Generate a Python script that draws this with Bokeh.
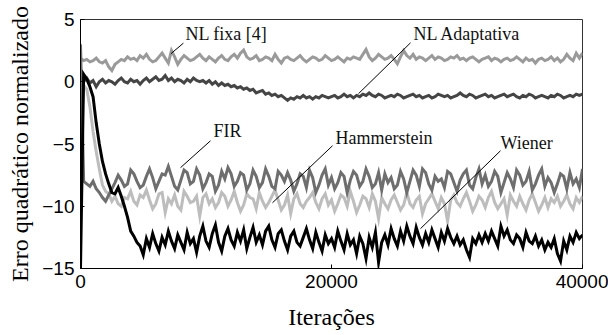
from bokeh.plotting import figure
from bokeh.embed import file_html
from bokeh.resources import INLINE
from bokeh.models import FixedTicker
from bokeh.core.properties import value

iters = [i * 250 for i in range(161)]

nl_fixa = [
    1.9, 1.7, 1.8, 1.6, 1.7, 1.9, 1.6, 1.5, 1.7, 1.2,
    0.9, 1.4, 1.6, 1.8, 1.7, 2.0, 1.8, 1.9, 1.7, 2.1,
    1.9, 2.2, 1.8, 1.6, 1.7, 2.0, 2.3, 1.9, 1.5, 2.5,
    2.0, 1.4, 1.8, 2.1, 1.9, 1.7, 1.8, 2.0, 2.2, 1.9,
    1.7, 2.0, 1.8, 1.6, 1.9, 2.1, 1.8, 1.7, 2.0, 2.2,
    1.9, 2.3, 2.55, 2.0, 1.8, 1.9, 2.1, 1.7, 1.8, 2.0,
    1.9, 1.7, 2.2, 1.8, 1.5, 1.9, 2.0, 1.8, 1.7, 1.9,
    2.1, 1.8, 1.6, 1.8, 2.0, 1.9, 1.7, 1.8, 2.1, 1.9,
    1.7, 1.8, 2.0, 1.8, 1.6, 1.9, 1.8, 2.0, 1.9, 1.8,
    2.2, 2.6, 2.0, 1.7, 1.9, 2.2, 2.0, 1.8, 1.9, 2.1,
    1.8, 1.45, 2.0, 2.5, 2.1, 1.9, 2.2, 1.8, 2.0, 1.9,
    1.7, 1.9, 2.1, 1.8, 2.0, 1.9, 1.7, 1.8, 2.0, 1.9,
    2.1, 1.8, 1.9, 1.7, 1.9, 2.0, 1.8, 1.6, 1.8, 1.9,
    2.0, 1.7, 1.9, 1.8, 1.6, 1.8, 1.9, 1.7, 1.8, 2.0,
    1.8, 1.6, 1.9, 1.7, 1.8, 1.5, 1.8, 1.9, 1.7, 1.8,
    2.0, 1.7, 1.9, 1.6, 1.8, 2.2, 1.9, 1.7, 2.3, 1.9, 2.3,
]

nl_adapt = [
    0.2, 0.0, 0.3, -0.1, 0.1, -0.4, 0.0, 0.2, -0.1, 0.1,
    0.0, -0.2, 0.1, 0.3, 0.0, -0.1, 0.2, 0.0, 0.1, -0.2,
    0.1, 0.3, 0.0, 0.2, 0.4, 0.1, 0.2, 0.5, 0.1, 0.3,
    0.0, 0.2, 0.1, -0.1, 0.2, 0.0, 0.3, 0.1, 0.0, 0.1,
    -0.1, 0.1, -0.2, 0.0, -0.3, -0.1, -0.3, -0.2, -0.4, -0.3,
    -0.5, -0.4, -0.6, -0.5, -0.7, -0.6, -0.9, -0.8, -0.7, -1.0,
    -0.9, -1.1, -1.0, -1.2, -1.1, -1.3, -1.5, -1.3, -1.4, -1.2,
    -1.3, -1.1, -1.3, -1.2, -1.4, -1.2, -1.3, -1.1, -1.2, -1.3,
    -1.2, -1.1, -1.3, -1.2, -1.0, -1.2, -1.1, -1.3, -1.1, -1.2,
    -1.0, -1.1, -0.9, -1.1, -1.2, -1.0, -1.1, -1.3, -1.2, -1.1,
    -1.2, -1.0, -1.1, -1.3, -1.2, -1.1, -1.0, -1.2, -1.1, -1.3,
    -1.2, -1.1, -1.3, -1.2, -1.0, -1.1, -1.2, -1.1, -1.3, -1.2,
    -1.1, -0.9, -1.1, -1.2, -1.0, -1.1, -1.3, -1.2, -1.1, -1.0,
    -1.2, -1.1, -1.3, -1.2, -1.1, -1.0, -1.2, -1.1, -1.0, -1.2,
    -1.3, -1.1, -1.2, -1.0, -1.1, -1.3, -1.2, -1.1, -1.2, -1.3,
    -1.1, -1.2, -1.0, -1.1, -1.3, -1.2, -1.1, -1.2, -1.0, -1.1, -1.0,
]

fir = [
    3.0, -8.0, -8.2, -8.4, -8.0, -8.6, -8.9, -9.3, -9.6, -9.1,
    -8.6, -8.1, -7.5, -7.9, -8.4, -8.2, -7.1, -7.4, -8.0, -8.5,
    -8.3, -7.6, -7.0, -7.7, -8.6, -8.0, -7.4, -7.5, -6.8, -7.6,
    -8.4, -8.7, -7.9, -7.1, -7.3, -8.2, -8.0, -7.0, -7.5, -8.6,
    -8.1, -7.4, -7.6, -8.8, -8.3, -7.2, -7.8, -6.9, -7.4, -8.4,
    -8.0, -7.3, -7.5, -8.7, -8.2, -7.1, -7.6, -8.5, -8.1, -7.0,
    -7.6, -8.4, -8.6, -7.2, -7.5, -8.0, -7.3, -7.9, -8.8, -8.2,
    -7.4, -7.6, -8.5, -7.1, -7.7, -8.9, -8.3, -7.5, -7.0, -8.3,
    -7.7, -8.6, -8.1, -7.3, -7.6, -8.9, -7.9, -7.2, -7.5, -8.4,
    -8.0, -7.0, -7.6, -8.5, -8.2, -7.3, -8.7, -7.4, -8.1, -7.7,
    -8.6, -8.3, -7.2, -7.8, -8.9, -8.0, -7.1, -7.5, -8.4, -7.0,
    -7.3, -8.2, -8.7, -7.6, -8.0, -7.8, -8.5, -7.2, -7.4, -8.1,
    -8.8, -7.9, -7.4, -7.1, -8.3, -8.6, -7.7, -7.0, -8.2, -7.5,
    -8.4, -8.0, -7.2, -7.6, -8.9, -8.1, -7.3, -7.8, -8.5, -7.1,
    -7.5, -8.3, -8.0, -7.2, -8.7, -8.2, -7.5, -7.0, -8.4, -7.7,
    -8.1, -8.9, -8.2, -7.4, -7.6, -8.6, -7.3, -8.2, -7.8, -8.5, -7.0,
]

hammerstein = [
    -5.0, -0.3, -0.6, -2.0, -4.0, -5.6, -7.0, -8.3, -8.8, -9.0,
    -9.6, -9.2, -9.8, -10.0, -9.3, -9.4, -8.8, -9.6, -9.9, -9.1,
    -9.3, -8.7, -9.5, -10.2, -9.8, -9.0, -8.9, -10.5, -9.4, -9.8,
    -9.1, -10.0, -10.3, -8.8, -9.2, -9.7, -9.6, -9.2, -10.8, -9.3,
    -9.0, -9.8, -9.4, -10.1, -9.7, -8.9, -9.2, -10.0, -9.5, -8.8,
    -9.7, -10.4, -9.9, -9.0, -9.3, -9.4, -10.2, -8.9, -9.6, -10.1,
    -9.7, -9.2, -8.7, -9.5, -10.3, -9.9, -9.1, -10.6, -9.4, -9.0,
    -9.8, -10.1, -9.6, -9.3, -8.9, -9.7, -10.2, -9.4, -9.0, -9.9,
    -9.5, -10.4, -9.8, -9.1, -9.3, -10.0, -8.8, -9.6, -10.5, -9.9,
    -9.2, -9.4, -10.1, -9.0, -9.6, -11.0, -9.3, -9.8, -10.2, -9.5,
    -9.1, -9.7, -10.3, -9.9, -8.9, -9.8, -10.1, -9.5, -9.2, -10.6,
    -9.8, -9.4, -9.0, -9.6, -10.2, -9.3, -9.8, -11.2, -9.5, -9.1,
    -9.7, -10.0, -9.4, -8.9, -9.6, -10.4, -9.9, -9.2, -9.5, -10.1,
    -9.3, -8.8, -9.7, -10.2, -9.8, -9.4, -10.7, -9.1, -9.6, -10.0,
    -9.2, -9.8, -10.3, -9.5, -9.0, -9.7, -10.4, -9.9, -9.3, -10.1,
    -9.4, -9.7, -9.2, -10.0, -9.6, -9.1, -9.8, -10.2, -9.3, -9.7, -9.2,
]

wiener = [
    -15.0, 0.6, 0.2, -0.4, -1.2, -3.3, -5.0, -6.4, -7.4, -8.2,
    -8.9, -9.0, -8.5, -9.2, -10.0, -10.9, -12.0, -12.4, -12.9, -13.2,
    -13.9, -12.6, -13.3, -12.2, -13.0, -13.6, -12.5, -13.1, -12.0, -12.8,
    -13.4, -12.3, -12.9, -13.5, -12.1, -13.0, -12.6, -13.7, -12.4, -11.6,
    -12.8, -13.3, -12.2, -11.5, -12.9, -13.6, -12.4, -11.8, -12.7, -13.2,
    -12.1, -12.8, -11.9, -13.4, -12.5, -11.7, -12.9, -12.3, -13.1, -12.0,
    -11.6, -12.7, -13.3, -12.2, -11.9, -12.8, -13.5, -12.4, -12.0, -12.9,
    -13.2, -12.5, -11.8, -12.7, -13.4, -12.1, -12.9, -13.6, -12.3, -13.0,
    -12.6, -13.3, -12.0, -12.8, -13.5, -12.2, -13.1, -12.7, -13.8, -12.4,
    -13.0, -14.2, -12.5, -13.3, -12.1, -14.5, -12.9, -12.3, -13.1, -11.8,
    -12.6, -13.2, -12.0, -12.8, -11.6, -12.4, -13.0, -11.7, -12.5, -13.1,
    -12.2, -12.9, -11.9, -12.6, -13.3, -12.1, -12.8, -11.8, -12.5, -13.0,
    -12.4, -13.1, -12.7, -13.5, -14.1, -12.6, -13.0, -12.3, -12.9, -12.2,
    -12.8, -12.0, -12.6, -13.2, -11.6, -12.4, -11.9, -12.7, -13.0, -12.3,
    -12.6, -13.3, -12.1, -12.8, -13.0, -12.4, -13.2, -12.7, -13.5, -12.9,
    -13.3, -12.6, -13.8, -14.4, -12.8, -13.5, -12.4, -12.9, -12.1, -12.6, -12.3,
]

series_names = ["NL fixa [4]", "NL Adaptativa", "FIR", "Hammerstein", "Wiener"]
series_data = [nl_fixa, nl_adapt, fir, hammerstein, wiener]
series_colors = ["#9a9a9a", "#454545", "#6e6e6e", "#bdbdbd", "#000000"]

# label anchor (left, middle) and leader line (start -> end), in data units
label_x = [8370, 26530, 10600, 20320, 33470]
label_y = [3.86, 3.86, -3.94, -4.5, -4.9]
lead_x0 = [8200, 26300, 10360, 20080, 33470]
lead_y0 = [3.1, 3.13, -4.74, -5.14, -5.54]
lead_x1 = [7200, 22150, 7970, 15300, 27090]
lead_y1 = [2.25, -0.96, -6.9, -9.72, -11.8]

x_ticks = [0, 20000, 40000]
y_ticks = [-15, -10, -5, 0, 5]

SERIF = "'Times New Roman', 'Liberation Serif', Times, serif"
SANS = "Arial, 'Liberation Sans', Helvetica, sans-serif"

p = figure(width=608, height=335, x_range=(0, 40000), y_range=(-15, 5),
           output_backend="svg", toolbar_location=None,
           min_border_left=80, min_border_right=26, min_border_top=19, min_border_bottom=67)
p.grid.visible = False
p.outline_line_color = "#333333"
p.outline_line_width = 1

draw_order = [0, 1, 3, 2, 4]
for i in draw_order:
    p.line(iters, series_data[i], line_color=series_colors[i], line_width=3, line_join="miter")

p.segment(x0=lead_x0, y0=lead_y0, x1=lead_x1, y1=lead_y1, line_color="#000000", line_width=1)
p.text(x=label_x, y=label_y, text=series_names, text_font=value(SERIF),
       text_font_size="18px", text_align="left", text_baseline="middle", text_color="#111111")

for ax in (p.xaxis, p.yaxis):
    ax.major_tick_in = 4
    ax.major_tick_out = 0
    ax.minor_tick_in = 0
    ax.minor_tick_out = 0
    ax.axis_line_color = "#000000"
    ax.major_tick_line_color = "#000000"
    ax.major_label_text_font = SANS
    ax.major_label_text_font_size = "19px"
    ax.major_label_text_color = "#000000"
    ax.axis_label_text_font = SERIF
    ax.axis_label_text_font_size = "24px"
    ax.axis_label_text_font_style = "normal"
    ax.axis_label_text_color = "#000000"

p.xaxis.ticker = FixedTicker(ticks=x_ticks)
p.yaxis.ticker = FixedTicker(ticks=y_ticks)
p.xaxis.axis_label = "Iterações"
p.yaxis.axis_label = "Erro quadrático normalizado"
p.xaxis.major_label_standoff = 6
p.yaxis.major_label_standoff = 6
p.xaxis.axis_label_standoff = 13
p.yaxis.axis_label_standoff = 6

open("out.html", "w").write(file_html(p, INLINE))
